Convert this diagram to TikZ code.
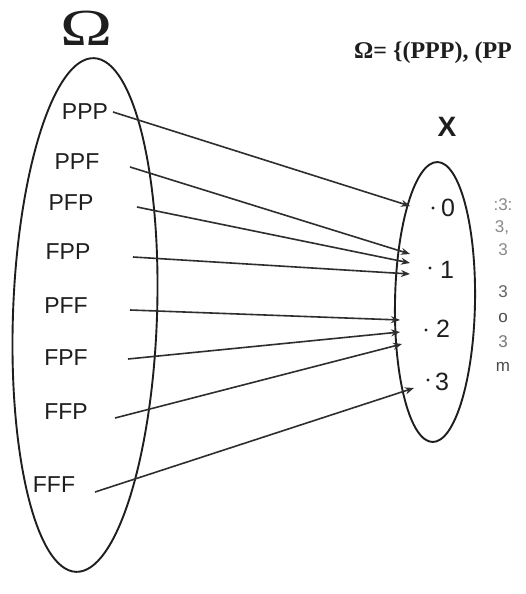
\documentclass[tikz,border=0pt]{standalone}
\usepackage{fontspec}
\setmainfont{Liberation Sans}
\newfontfamily\serifbold{Liberation Serif}
\usetikzlibrary{arrows.meta}
\definecolor{ink}{HTML}{1E1E1E}
\definecolor{lineink}{HTML}{2E2E2E}
\definecolor{faint}{HTML}{8A8A8A}
\tikzset{
  lbl/.style={inner sep=0pt, font=\fontsize{23}{23}\selectfont, text=ink},
  val/.style={inner sep=0pt, font=\fontsize{25}{25}\selectfont, text=ink},
  setline/.style={draw=ink, line width=1.9pt},
  maparrow/.style={draw=lineink, line width=1.6pt, -{Stealth[length=9pt,width=7pt]}},
  side/.style={inner sep=0pt, font=\fontsize{17}{17}\selectfont, text=faint},
}
\begin{document}
\begin{tikzpicture}[x=1pt,y=-1pt]
\useasboundingbox (0,0) rectangle (525,594);
\fill[white] (0,0) rectangle (525,594);
% titles
\node[inner sep=0pt, text=ink, xscale=1.35] (omega) at (87,28) {\serifbold\fontsize{52}{52}\selectfont Ω};
\node[inner sep=0pt, anchor=west, text=ink] (omegaset) at (354,53) {\serifbold\bfseries\fontsize{24}{24}\selectfont Ω= \{(PPP), (PP};
\node[inner sep=0pt, text=ink] (xset) at (447,127) {\fontsize{28}{28}\selectfont\bfseries X};
% sets
\draw[setline, rotate around={-2:(85,315)}] (85,315) ellipse [x radius=72, y radius=257];
\draw[setline, rotate around={-1:(435,302)}] (435,302) ellipse [x radius=40, y radius=140];
% outcomes
\node[lbl] (PPP) at (85,112) {PPP};
\node[lbl] (PPF) at (77,162) {PPF};
\node[lbl] (PFP) at (71,203) {PFP};
\node[lbl] (FPP) at (68,252) {FPP};
\node[lbl] (PFF) at (66,306) {PFF};
\node[lbl] (FPF) at (66,358) {FPF};
\node[lbl] (FFP) at (66,412) {FFP};
\node[lbl] (FFF) at (54,485) {FFF};
% values
\node[val] (v0) at (448,208) {0};
\node[val] (v1) at (447,270) {1};
\node[val] (v2) at (443,329) {2};
\node[val] (v3) at (442,382) {3};
\fill[ink] (433,208) circle (1.6pt);
\fill[ink] (430,268) circle (1.6pt);
\fill[ink] (426,330) circle (1.6pt);
\fill[ink] (428,380) circle (1.6pt);
% faint side marks
\node[side] (s1) at (503,205) {:3:};
\node[side] (s2) at (502,228) {3,};
\node[side] (s3) at (503,250) {3};
\node[side, text=ink!70] (s4) at (503,292) {3};
\node[side, text=ink!80] (s5) at (503,318) {o};
\node[side, text=ink!60] (s6) at (503,342) {3};
\node[side, text=ink!80] (s7) at (503,367) {m};
% connector ends
\coordinate (aPPP) at (113,112);
\coordinate (aPPF) at (130,167);
\coordinate (aPFP) at (137,207);
\coordinate (aFPP) at (133,257);
\coordinate (aPFF) at (130,310);
\coordinate (aFPF) at (128,359);
\coordinate (aFFP) at (115,418);
\coordinate (aFFF) at (95,492);
\coordinate (e0) at (410,206);
\coordinate (e1a) at (410,254);
\coordinate (e1b) at (410,263);
\coordinate (e1c) at (410,274);
\coordinate (e2a) at (400,320);
\coordinate (e2b) at (400,332);
\coordinate (e2c) at (402,344);
\coordinate (e3) at (414,388);
\draw[maparrow] (aPPP) -- (e0);
\draw[maparrow] (aPPF) -- (e1a);
\draw[maparrow] (aPFP) -- (e1b);
\draw[maparrow] (aFPP) -- (e1c);
\draw[maparrow] (aPFF) -- (e2a);
\draw[maparrow] (aFPF) -- (e2b);
\draw[maparrow] (aFFP) -- (e2c);
\draw[maparrow] (aFFF) -- (e3);
\end{tikzpicture}
\end{document}
